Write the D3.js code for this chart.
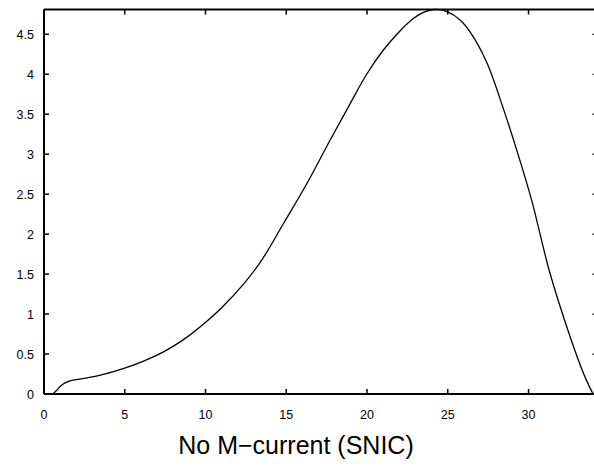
<!DOCTYPE html>
<html>
<head>
<meta charset="utf-8">
<script src="https://cdn.jsdelivr.net/npm/d3@7"></script>
<style>
  html, body { margin: 0; padding: 0; background: #fff; }
  svg { display: block; }
  text { font-family: "Liberation Sans", Arial, sans-serif; }
</style>
</head>
<body>
<svg id="chart" width="594" height="470"></svg>
<script>
// Data
const xVals = [0.55, 0.8, 1.03, 1.3, 1.6, 2.0, 2.5, 3.5, 4.95, 6.2, 7.43, 8.7, 9.9, 11.0, 12.38, 13.48, 14.82, 16.27, 17.71, 18.95, 19.98, 21.0, 21.94, 22.7, 23.4, 24.2, 25.0, 25.76, 26.38, 27.41, 28.44, 29.47, 30.2, 31.33, 32.57, 33.4, 33.8, 34.0];
const yVals = [0.0, 0.05, 0.1, 0.14, 0.165, 0.18, 0.195, 0.235, 0.32, 0.415, 0.53, 0.69, 0.88, 1.08, 1.38, 1.675, 2.13, 2.63, 3.175, 3.63, 4.0, 4.3, 4.52, 4.67, 4.765, 4.81, 4.78, 4.68, 4.53, 4.15, 3.57, 2.92, 2.42, 1.51, 0.72, 0.26, 0.08, 0.0];
const xTicks = [0, 5, 10, 15, 20, 25, 30];
const yTicks = [0, 0.5, 1, 1.5, 2, 2.5, 3, 3.5, 4, 4.5];
const xLabel = "No M\u2212current (SNIC)";

(function () {
const svg = d3.select("#chart");
const x = d3.scaleLinear().domain([0, 34.24]).range([44, 597]);
const y = d3.scaleLinear().domain([0, 4.81]).range([394, 9.5]);
const x0 = x(0), x1 = x(34.24), y0 = y(0), y1 = y(4.81);

// bottom edge
svg.append("line").attr("x1", x0).attr("y1", y0).attr("x2", x1).attr("y2", y0)
  .attr("stroke", "black").attr("stroke-width", 2);
// left edge
svg.append("line").attr("x1", x0).attr("y1", y0).attr("x2", x0).attr("y2", y1)
  .attr("stroke", "black").attr("stroke-width", 2);
// top edge
svg.append("line").attr("x1", x0).attr("y1", y1).attr("x2", x1).attr("y2", y1)
  .attr("stroke", "black").attr("stroke-width", 2);

// x ticks (bottom and top, inward)
svg.selectAll("line.xb").data(xTicks).join("line").attr("class", "xb")
  .attr("x1", d => x(d)).attr("x2", d => x(d)).attr("y1", y0).attr("y2", y0 - 5)
  .attr("stroke", "black").attr("stroke-width", 1.5);
svg.selectAll("line.xt").data(xTicks).join("line").attr("class", "xt")
  .attr("x1", d => x(d)).attr("x2", d => x(d)).attr("y1", y1).attr("y2", y1 + 5)
  .attr("stroke", "black").attr("stroke-width", 1.5);
// y ticks (left, inward) and right-side tick stubs
svg.selectAll("line.yl").data(yTicks).join("line").attr("class", "yl")
  .attr("x1", x0).attr("x2", x0 + 5).attr("y1", d => y(d)).attr("y2", d => y(d))
  .attr("stroke", "black").attr("stroke-width", 1.5);
svg.selectAll("line.yr").data(yTicks).join("line").attr("class", "yr")
  .attr("x1", x1 - 2).attr("x2", x1 - 4.5).attr("y1", d => y(d)).attr("y2", d => y(d))
  .attr("stroke", "black").attr("stroke-width", 1.2);

// tick labels
svg.selectAll("text.xl").data(xTicks).join("text").attr("class", "xl")
  .attr("x", d => x(d)).attr("y", y0 + 25)
  .attr("text-anchor", "middle")
  .style("font-size", "12.5px").attr("fill", "black")
  .text(d => String(d));
svg.selectAll("text.ylab").data(yTicks).join("text").attr("class", "ylab")
  .attr("x", x0 - 10).attr("y", d => y(d))
  .attr("dy", "0.36em")
  .attr("text-anchor", "end")
  .style("font-size", "12.5px").attr("fill", "black")
  .text(d => String(d));

// curve
const pts = xVals.map((v, i) => [v, yVals[i]]);
svg.append("path").datum(pts)
  .attr("d", d3.line().x(d => x(d[0])).y(d => y(d[1])).curve(d3.curveCatmullRom.alpha(0.5)))
  .attr("fill", "none").attr("stroke", "black").attr("stroke-width", 1.3);

// x label
svg.append("text").attr("x", 296).attr("y", 454).attr("text-anchor", "middle")
  .style("font-size", "25px").attr("fill", "black").text(xLabel);
})();
</script>
</body>
</html>
